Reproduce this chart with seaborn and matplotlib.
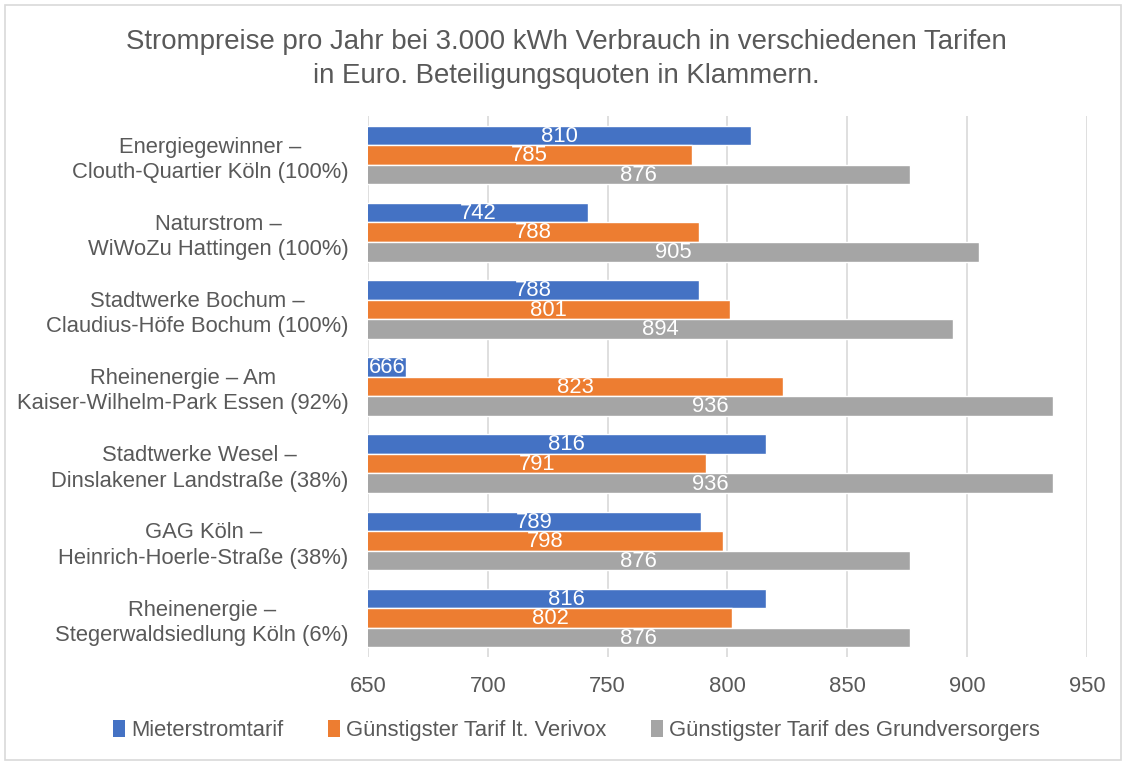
import pandas as pd
import matplotlib
matplotlib.use('Agg')
import matplotlib.pyplot as plt
import seaborn as sns
from matplotlib.patches import Rectangle, Patch

# Data
anlagen = ['Energiegewinner –\nClouth-Quartier Köln (100%)',
           'Naturstrom –\nWiWoZu Hattingen (100%)',
           'Stadtwerke Bochum –\nClaudius-Höfe Bochum (100%)',
           'Rheinenergie – Am\nKaiser-Wilhelm-Park Essen (92%)',
           'Stadtwerke Wesel –\nDinslakener Landstraße (38%)',
           'GAG Köln –\nHeinrich-Hoerle-Straße (38%)',
           'Rheinenergie –\nStegerwaldsiedlung Köln (6%)']
serien = ['Mieterstromtarif', 'Günstigster Tarif lt. Verivox',
          'Günstigster Tarif des Grundversorgers']
mieterstrom = [810, 742, 788, 666, 816, 789, 816]
verivox = [785, 788, 801, 823, 791, 798, 802]
grundversorger = [876, 905, 894, 936, 936, 876, 876]
farben = ['#4472C4', '#ED7D31', '#A5A5A5']

rows = []
for serie, werte in zip(serien, [mieterstrom, verivox, grundversorger]):
    for a, w in zip(anlagen, werte):
        rows.append({'Anlage': a, 'Serie': serie, 'Preis': w})
df = pd.DataFrame(rows)

sns.set_style('white')
plt.rcParams['font.family'] = ['Liberation Sans', 'DejaVu Sans']
textgrau = '#595959'
fs = 15.8

fig = plt.figure(figsize=(11.26, 7.62), dpi=100)
ax = fig.add_axes([0.3268, 0.1383, 0.6385, 0.7089])

sns.barplot(data=df, y='Anlage', x='Preis', hue='Serie', hue_order=serien,
            palette=farben, orient='h', width=0.76, gap=0, ax=ax,
            legend=False, saturation=1, errorbar=None)

x0 = 650
ax.set_xlim(x0, 950)
ax.set_xticks(range(650, 951, 50))
ax.grid(axis='x', color='#D9D9D9', linewidth=1.2)
ax.set_axisbelow(True)
for s in ax.spines.values():
    s.set_visible(False)
ax.set_xlabel('')
ax.set_ylabel('')
ax.tick_params(axis='both', length=0, labelsize=fs, labelcolor=textgrau)
ax.tick_params(axis='y', pad=14)
ax.tick_params(axis='x', pad=14)
for lbl in ax.get_yticklabels():
    lbl.set_multialignment('center')
    lbl.set_linespacing(1.27)

# value labels centered inside the visible part of each bar
for cont in ax.containers:
    for p in cont.patches:
        w = p.get_width()
        ax.text((x0 + w) / 2, p.get_y() + p.get_height() / 2 + 0.01, f'{w:.0f}',
                ha='center', va='center', color='white', fontsize=fs)

fig.text(0.503, 0.923,
         'Strompreise pro Jahr bei 3.000 kWh Verbrauch in verschiedenen Tarifen\n'
         'in Euro. Beteiligungsquoten in Klammern.',
         ha='center', va='center', fontsize=19.9, color=textgrau, linespacing=1.4)

handles = [Patch(facecolor=c, edgecolor='none') for c in farben]
fig.legend(handles, serien, loc='center', bbox_to_anchor=(0.512, 0.041), ncol=3,
           frameon=False, fontsize=fs, labelcolor=textgrau,
           handlelength=0.55, handleheight=0.8, handletextpad=0.3, columnspacing=2.0)

fig.patches.append(Rectangle((0.004, 0.003), 0.992, 0.991, transform=fig.transFigure,
                             fill=False, edgecolor='#D9D9D9', linewidth=1.2))

fig.savefig('out.png', dpi=100)
